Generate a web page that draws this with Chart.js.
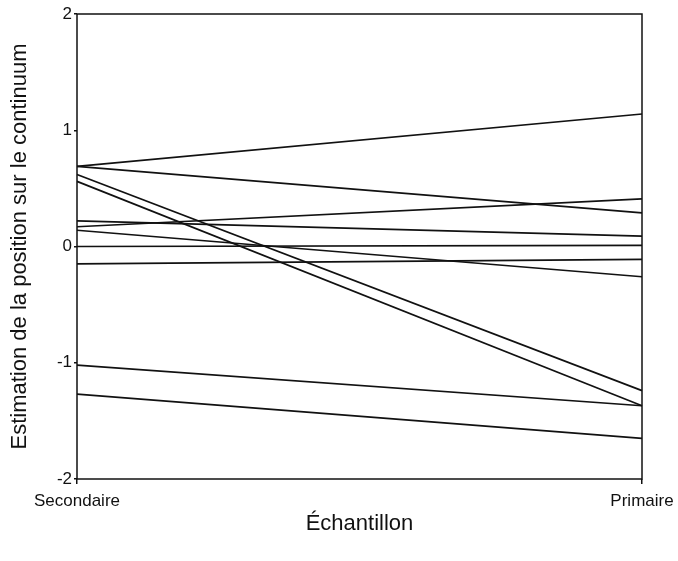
<!DOCTYPE html>
<html>
<head>
<meta charset="utf-8">
<script src="https://cdn.jsdelivr.net/npm/chart.js@4/dist/chart.umd.min.js"></script>
<style>
  html, body { margin: 0; padding: 0; background: #fff; }
  #wrap { width: 678px; height: 561px; }
</style>
</head>
<body>
<div id="wrap"><canvas id="c" width="678" height="561"></canvas></div>
<script>
// Sample groups on the horizontal axis
const categories = ['Secondaire', 'Primaire'];

// Estimated position of each item, per sample (same order in both arrays)
const secondaire = [0.69, 0.69, 0.62, 0.56, 0.22, 0.17, 0.14, 0.00, -0.15, -1.02, -1.27];
const primaire   = [1.14, 0.29, -1.24, -1.37, 0.09, 0.41, -0.26, 0.01, -0.11, -1.37, -1.65];

// Vertical tick values
const yTicks = [-2, -1, 0, 1, 2];

const datasets = secondaire.map((v, i) => ({
  data: [v, primaire[i]],
  borderColor: '#111',
  borderWidth: 1.7,
  pointRadius: 0,
  fill: false,
  tension: 0
}));

// Draws the rectangular frame around the plotting area
const framePlugin = {
  id: 'frame',
  afterDatasetsDraw(chart) {
    const { ctx, chartArea: a } = chart;
    ctx.save();
    ctx.strokeStyle = '#111';
    ctx.lineWidth = 1.5;
    ctx.strokeRect(a.left, a.top, a.right - a.left, a.bottom - a.top);
    ctx.restore();
  }
};

const font = 'Liberation Sans, Arial, sans-serif';

new Chart(document.getElementById('c'), {
  type: 'line',
  data: { labels: categories, datasets },
  plugins: [framePlugin],
  options: {
    responsive: false,
    animation: false,
    layout: { padding: { top: 14, right: 36, left: 0, bottom: 0 } },
    plugins: { legend: { display: false }, tooltip: { enabled: false } },
    scales: {
      x: {
        offset: false,
        grid: { display: true, drawOnChartArea: false, tickLength: 5, color: '#111', lineWidth: 1.5 },
        border: { display: false },
        ticks: { color: '#111', font: { family: font, size: 17 }, padding: 7, maxRotation: 0, autoSkip: false },
        title: { display: true, text: 'Échantillon', color: '#111', font: { family: font, size: 22 }, padding: { top: 0, bottom: 24 } },
        afterFit(scale) { scale.height = 82; scale.paddingRight = 0; scale.paddingLeft = 0; }
      },
      y: {
        min: -2,
        max: 2,
        afterBuildTicks(scale) { scale.ticks = yTicks.map(v => ({ value: v })); },
        grid: { display: true, drawOnChartArea: false, tickLength: 3, color: '#111', lineWidth: 1.5 },
        border: { display: false },
        ticks: { color: '#111', font: { family: font, size: 17 }, padding: 2 },
        title: { display: true, text: 'Estimation de la position sur le continuum', color: '#111', font: { family: font, size: 22 }, padding: { top: 7, bottom: 0 } },
        afterFit(scale) { scale.width = 77; }
      }
    }
  }
});
</script>
</body>
</html>
